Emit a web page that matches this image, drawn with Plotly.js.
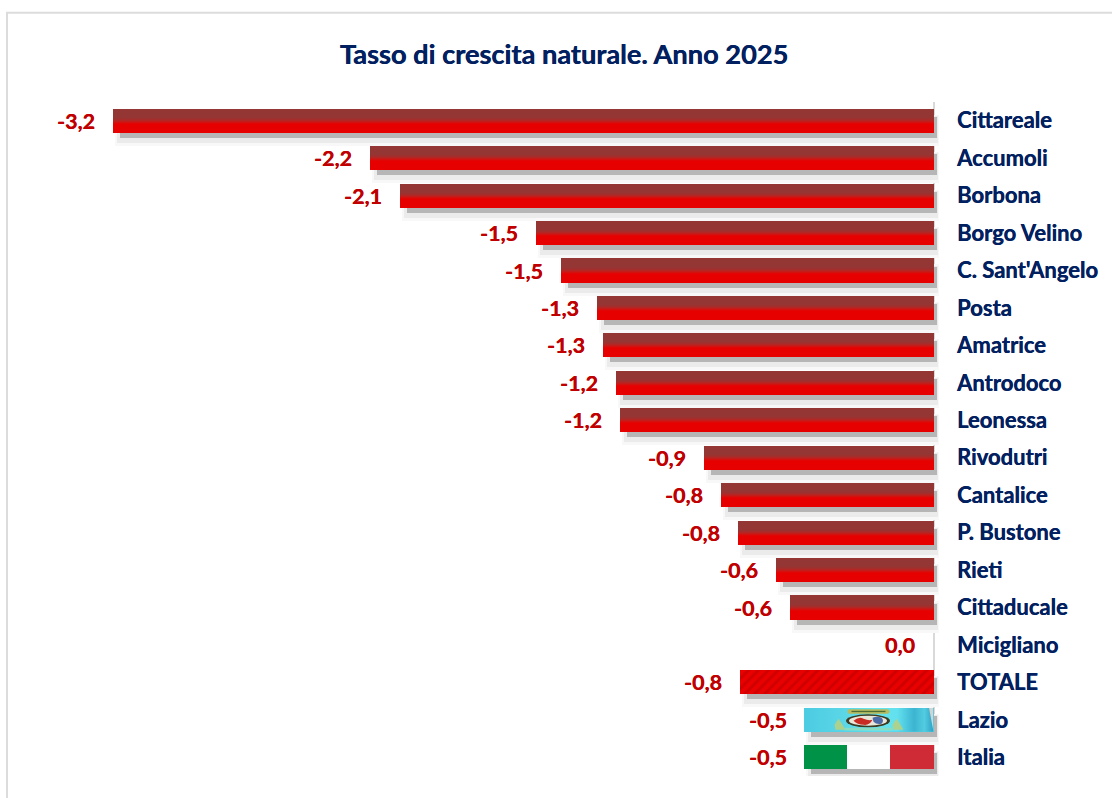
<!DOCTYPE html>
<html><head><meta charset="utf-8">
<script src="https://cdn.plot.ly/plotly-3.0.1.min.js"></script>
<style>html,body{margin:0;padding:0;background:#fff;overflow:hidden}#c{width:1112px;height:798px}</style>
</head><body><div id="c"></div>
<script>
const categories = ["Cittareale","Accumoli","Borbona","Borgo Velino","C. Sant'Angelo","Posta","Amatrice","Antrodoco","Leonessa","Rivodutri","Cantalice","P. Bustone","Rieti","Cittaducale","Micigliano","TOTALE","Lazio","Italia"];
const values = [-3.2,-2.198,-2.08,-1.55,-1.453,-1.313,-1.29,-1.239,-1.223,-0.896,-0.83,-0.764,-0.616,-0.561,0,-0.756,-0.503,-0.503];
const labels = ["-3,2","-2,2","-2,1","-1,5","-1,5","-1,3","-1,3","-1,2","-1,2","-0,9","-0,8","-0,8","-0,6","-0,6","0,0","-0,8","-0,5","-0,5"];
const plainRows = 15, totalRow = 15, lazioRow = 16, italiaRow = 17;

const W = 1112, H = 798;
const zeroPx = 933.5, pxPerUnit = 256.5, leftPx = 20, rightPx = 941;
const pitch = (757 - 121) / 17, barPx = 24;
const topPx = 121 - pitch / 2, botPx = 757 + pitch / 2;
const m = {l: leftPx, r: W - rightPx, t: topPx, b: H - botPx};
const px2x = p => p / pxPerUnit;
const px2y = p => p / pitch;
const barW = px2y(barPx);

// painted top to bottom: each band runs from its start px down to the bar's bottom edge
const bands = [[0,'#933634'],[8,'#963533'],[9,'#9c3230'],[10,'#a52e2c'],[11,'#b32624'],[12,'#c21d1a'],[13,'#d31210'],[14,'#e00606'],[15,'#e60000']];
// shadow layers: left inset px, right overhang px, top inset px, bottom drop px, colour
const shadows = [[2,5.5,6,13,'#f8f8f8'],[4,4.5,7,10,'#ebebeb'],[7,3.5,8,5,'#b6b6b6']];

const traces = [];
shadows.forEach(s => {
  const base = s[1] / pxPerUnit;
  traces.push({type:'bar',orientation:'h',y:categories,
    x:values.map(v => v === 0 ? null : v + px2x(s[0]) - base),
    base:values.map(() => base),
    width:px2y(barPx - s[2] + s[3]), offset:-barW/2 + px2y(s[2]),
    marker:{color:s[4],line:{width:0}},hoverinfo:'skip',showlegend:false});
});
bands.forEach(b => {
  traces.push({type:'bar',orientation:'h',y:categories,
    x:values.map((v,i) => i < plainRows ? v : null),
    width:px2y(barPx-b[0]), offset:-barW/2 + px2y(b[0]),
    marker:{color:b[1],line:{width:0}},showlegend:false});
});
traces.push({type:'bar',orientation:'h',y:categories,
  x:values.map((v,i) => i === totalRow ? v : null),
  width:barW, offset:-barW/2,
  marker:{color:'#e60000',line:{width:0},pattern:{shape:'/',fgcolor:'#cf0000',bgcolor:'#e90000',size:7,solidity:0.4}},showlegend:false});
traces.push({type:'bar',orientation:'h',y:categories,
  x:values.map((v,i) => i === lazioRow ? v : null),
  width:barW, offset:-barW/2, marker:{color:'#4fcfe4',line:{width:0}},showlegend:false});
// Italian flag, drawn left to right: green, white, red
[['#009246',2/3,1],['#ffffff',1/3,2/3],['#ce2b37',0,1/3]].forEach(f => {
  traces.push({type:'bar',orientation:'h',y:categories,
    x:values.map((v,i) => i === italiaRow ? v*(f[2]-f[1]) : null),
    base:values.map((v,i) => i === italiaRow ? v*f[1] : null),
    width:barW, offset:-barW/2, marker:{color:f[0],line:{width:0}},showlegend:false});
});

const lazioSvg = `<svg xmlns="http://www.w3.org/2000/svg" width="516" height="96" viewBox="0 0 129 24" preserveAspectRatio="none">
<defs><linearGradient id="g" x1="0" x2="1" y1="0" y2="0">
<stop offset="0" stop-color="#4ccbe2"/><stop offset="0.3" stop-color="#5ad6e6"/><stop offset="0.55" stop-color="#66e4ec"/>
<stop offset="0.72" stop-color="#62e0ee"/><stop offset="0.85" stop-color="#3cb4d2"/><stop offset="0.93" stop-color="#52cce0"/><stop offset="1" stop-color="#2f9fc4"/></linearGradient>
<filter id="b" x="-10%" y="-10%" width="120%" height="120%"><feGaussianBlur stdDeviation="0.6"/></filter></defs>
<rect width="129" height="24" fill="url(#g)"/>
<g filter="url(#b)">
<path d="M30,17 l4,-6 l4,6 l3,5 h-10z M88,17 l4,-6 l4,6 l3,5 h-10z" fill="#b8d07e" opacity="0.85"/>
<rect x="43" y="1.500" width="42" height="4.500" rx="2" fill="#b8bb5e"/>
<rect x="47" y="3" width="34" height="1.300" fill="#4d6d34"/>
<rect x="40" y="20" width="48" height="2.500" fill="#8adcc0"/>
<ellipse cx="63.500" cy="13" rx="22" ry="6.500" fill="#3c3a24"/>
<ellipse cx="63.500" cy="13" rx="19" ry="5" fill="#e8e6d8"/>
<path d="M49,13 q6,-5 10,-2 q5,2 9,1 q-3,6 -9,5 q-6,0 -10,-4z" fill="#c92a22"/>
<path d="M68,10 q5,-2 9,0 q3,3 0,6 q-5,1 -8,-2z" fill="#4c6aa8"/>
</g>
<path d="M124.500,0 L129,0 L129,24 Z" fill="#d4d4d4"/>
</svg>`;
const lazioVal = values[lazioRow];
const plotW = rightPx - leftPx, plotH = botPx - topPx;
const navyShadow = '0.35px 0 0 #002060', redShadow = '0.35px 0 0 #c00000';

Plotly.newPlot('c', traces, {
  width:W, height:H, margin:m, autosize:false, barmode:'overlay', bargap:0,
  paper_bgcolor:'#ffffff', plot_bgcolor:'rgba(0,0,0,0)', showlegend:false,
  font:{family:'Lato, Carlito, sans-serif'},
  title:{text:'<b>Tasso di crescita naturale. Anno 2025</b>',font:{family:'Lato',size:27.200,color:'#002060',shadow:navyShadow},x:(564-leftPx)/plotW,xref:'paper',xanchor:'center',y:1-54/H,yanchor:'middle'},
  xaxis:{range:[-(zeroPx-leftPx)/pxPerUnit,(rightPx-zeroPx)/pxPerUnit],showgrid:false,showticklabels:false,ticks:'',
    zeroline:true,zerolinecolor:'#d9d9d9',zerolinewidth:2,fixedrange:true},
  yaxis:{type:'category',categoryorder:'array',categoryarray:categories,range:[categories.length-0.5,-0.5],side:'right',
    showgrid:false,showline:false,ticks:'',tickfont:{family:'Lato',size:22,color:'#002060',shadow:navyShadow},ticklabelstandoff:15,fixedrange:true,tickmode:'array',tickvals:categories,ticktext:categories.map(c=>'<b>'+c+'</b>')},
  annotations:values.map((v,i)=>({x:v,y:categories[i],xref:'x',yref:'y',text:'<b>'+labels[i]+'</b>',showarrow:false,xanchor:'right',yanchor:'middle',xshift:v===0?-17:-15.500,align:'right',font:{family:'Lato',size:21.500,color:'#c00000',shadow:redShadow}})),
  images:[{source:'data:image/svg+xml;utf8,'+encodeURIComponent(lazioSvg),xref:'x',yref:'y',x:lazioVal,y:lazioRow-barW/2,sizex:-lazioVal,sizey:barW,xanchor:'left',yanchor:'top',sizing:'stretch',layer:'above'}],
  shapes:[
    {type:'line',xref:'paper',yref:'paper',x0:(7-m.l)/plotW,x1:(7-m.l)/plotW,y0:1+(m.t-13)/plotH,y1:1+(m.t-H)/plotH,line:{color:'#dcdcdc',width:2}},
    {type:'line',xref:'paper',yref:'paper',x0:(6-m.l)/plotW,x1:(W-m.l)/plotW,y0:1+(m.t-13)/plotH,y1:1+(m.t-13)/plotH,line:{color:'#dcdcdc',width:2}}
  ]
},{displayModeBar:false,staticPlot:true});
</script></body></html>
